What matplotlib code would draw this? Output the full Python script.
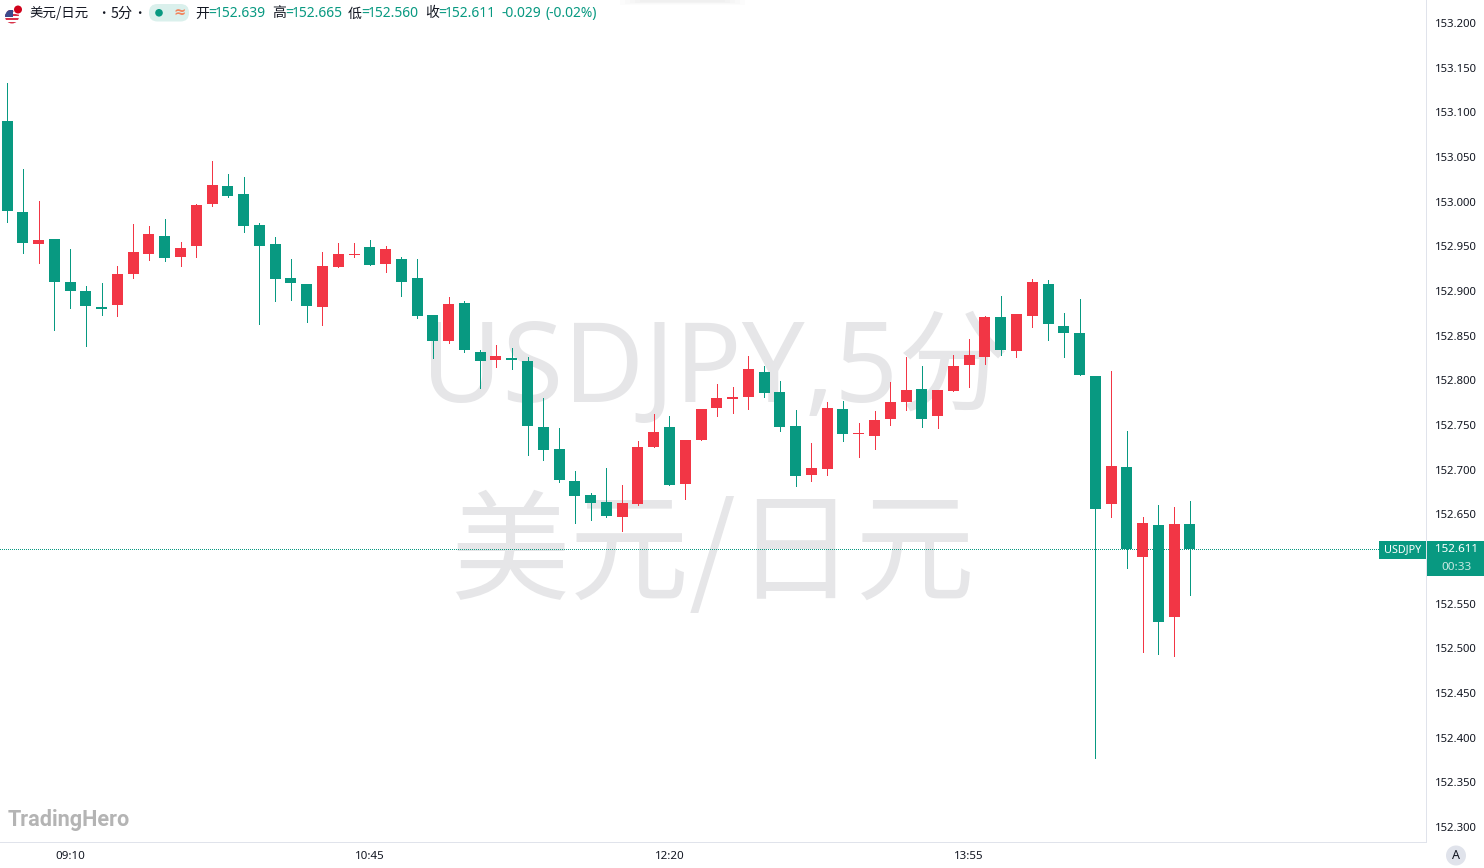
import matplotlib
matplotlib.use("Agg")
import matplotlib.pyplot as plt
from matplotlib.patches import Circle, FancyBboxPatch, Rectangle

W, H = 1484, 868
opens = [153.090,152.988,152.953,152.958,152.910,152.900,152.882,152.884,152.919,152.941,
         152.962,152.938,152.951,152.997,153.018,153.009,152.974,152.953,152.915,152.908,
         152.882,152.927,152.940,152.949,152.930,152.936,152.915,152.873,152.844,152.887,
         152.832,152.823,152.825,152.822,152.748,152.723,152.687,152.672,152.664,152.647,
         152.662,152.726,152.748,152.684,152.733,152.769,152.779,152.782,152.809,152.787,
         152.749,152.694,152.701,152.768,152.740,152.738,152.757,152.776,152.790,152.760,
         152.788,152.817,152.826,152.871,152.833,152.872,152.908,152.861,152.853,152.805,
         152.662,152.703,152.602,152.638,152.535,152.639]
highs = [153.133,153.037,153.001,152.958,152.947,152.906,152.909,152.928,152.975,152.973,
         152.981,152.955,152.997,153.046,153.031,153.028,152.976,152.960,152.936,152.908,
         152.944,152.954,152.954,152.957,152.950,152.938,152.936,152.873,152.893,152.889,
         152.834,152.840,152.836,152.826,152.780,152.747,152.699,152.674,152.702,152.683,
         152.732,152.762,152.760,152.733,152.768,152.796,152.793,152.827,152.816,152.799,
         152.767,152.730,152.776,152.777,152.752,152.766,152.798,152.826,152.816,152.789,
         152.829,152.846,152.872,152.894,152.874,152.913,152.912,152.876,152.891,152.805,
         152.810,152.743,152.647,152.660,152.658,152.665]
lows = [152.977,152.943,152.932,152.857,152.881,152.838,152.873,152.872,152.915,152.935,
        152.934,152.928,152.938,152.995,153.005,152.966,152.863,152.889,152.890,152.865,
        152.862,152.927,152.938,152.929,152.921,152.894,152.870,152.825,152.842,152.832,
        152.791,152.815,152.813,152.716,152.711,152.686,152.640,152.644,152.647,152.631,
        152.660,152.725,152.683,152.667,152.733,152.760,152.763,152.768,152.782,152.743,
        152.682,152.687,152.694,152.732,152.714,152.723,152.750,152.767,152.748,152.747,
        152.788,152.793,152.818,152.828,152.826,152.860,152.845,152.826,152.806,152.377,
        152.647,152.590,152.496,152.494,152.491,152.560]
closes = [152.990,152.954,152.957,152.910,152.900,152.883,152.880,152.919,152.944,152.964,
          152.937,152.948,152.996,153.019,153.007,152.973,152.951,152.913,152.909,152.883,
          152.928,152.941,152.941,152.929,152.947,152.910,152.872,152.844,152.885,152.834,
          152.822,152.827,152.823,152.749,152.722,152.688,152.671,152.663,152.648,152.663,
          152.725,152.742,152.683,152.733,152.768,152.780,152.781,152.813,152.786,152.748,
          152.693,152.702,152.769,152.740,152.741,152.756,152.776,152.789,152.757,152.789,
          152.816,152.829,152.871,152.834,152.874,152.910,152.863,152.853,152.806,152.656,
          152.704,152.611,152.640,152.530,152.639,152.611]
price_ticks = [153.2,153.15,153.1,153.05,153.0,152.95,152.9,152.85,152.8,152.75,
               152.7,152.65,152.55,152.5,152.45,152.4,152.35,152.3]
time_pos = [4, 23, 42, 61]
time_labels = ["09:10", "10:45", "12:20", "13:55"]
last_price = 152.611

GREEN, RED = "#089981", "#F23645"
INK, RULE, WM = "#131722", "#E0E3EB", "#E6E6E8"
CJK = ["Noto Sans CJK SC", "DejaVu Sans"]
UI = "Noto Sans"

fig = plt.figure(figsize=(W / 100, H / 100), dpi=100, facecolor="white")
ax = fig.add_axes([0, (H - 842) / H, 1426 / W, 842 / H])
PX = 893.33
ax.set_ylim(153.2 - (842 - 23.1) / PX, 153.2 + 23.1 / PX)
STEP = 15.773
ax.set_xlim(-7.0 / STEP, (1426 - 7.0) / STEP)

n = list(range(len(opens)))
cols = [GREEN if c < o else RED for o, c in zip(opens, closes)]
ax.vlines(n, lows, highs, colors=cols, linewidth=0.72, zorder=3, antialiased=False)
ax.bar(n, [max(abs(o - c), 0.0011) for o, c in zip(opens, closes)],
       bottom=[min(o, c) for o, c in zip(opens, closes)],
       width=11 / STEP, color=cols, linewidth=0, zorder=4, antialiased=False)
ax.axhline(last_price, color=GREEN, linewidth=0.72, linestyle=(0, (1, 2)), zorder=2,
           antialiased=False, dash_capstyle="butt")

for s in ("top", "left"):
    ax.spines[s].set_visible(False)
for s in ("bottom", "right"):
    ax.spines[s].set_color(RULE)
    ax.spines[s].set_linewidth(0.72)
ax.yaxis.tick_right()
ax.set_yticks(price_ticks)
ax.set_yticklabels([f"{p:.3f}" for p in price_ticks], fontsize=8.15, color=INK, family=UI)
ax.tick_params(axis="y", length=0, pad=6.6)
ax.set_xticks(time_pos)
ax.set_xticklabels(time_labels, fontsize=8.3, color=INK, family=UI)
ax.tick_params(axis="x", length=0, pad=6.5)

ov = fig.add_axes([0, 0, 1, 1], facecolor="none", zorder=-1)
ov.set_xlim(0, W); ov.set_ylim(H, 0); ov.axis("off")
ax.set_zorder(1); ax.patch.set_alpha(0)
top = fig.add_axes([0, 0, 1, 1], facecolor="none", zorder=5)
top.set_xlim(0, W); top.set_ylim(H, 0); top.axis("off")

# watermark beneath the candles
ov.text(715, 373, "USDJPY,5分", fontsize=80, color=WM, family=[UI, "Noto Sans CJK SC"],
        ha="center", va="center")
ov.text(713, 557, "美元/日元", fontsize=86, color=WM, family=CJK, ha="center", va="center",
        fontweight="light")
ov.text(8, 820, "TradingHero", fontsize=15.6, color="#B4B4B4", family="Roboto", fontweight="bold",
        ha="left", va="center")

# soft shadow of a hidden toolbar at the top edge
for k in range(5):
    ov.add_patch(Rectangle((620 + k * 5, 0), 125 - k * 10, 5 - k * 0.8, facecolor="#808080",
                           alpha=0.018, linewidth=0))

# flag
disc = Circle((12, 16.5), 7, transform=top.transData)
for k, col in enumerate(["#D8334A", "white", "#D8334A", "white", "#D8334A", "white", "#D8334A"]):
    r = top.add_patch(Rectangle((5, 9.5 + k * 2), 14, 2, color=col, linewidth=0, zorder=2))
    r.set_clip_path(disc)
canton = top.add_patch(Rectangle((5, 9.5), 7.5, 7, color="#3C4A8C", linewidth=0, zorder=3))
canton.set_clip_path(disc)
top.add_patch(Circle((18, 9.5), 5, color="white", linewidth=0, zorder=4))
top.add_patch(Circle((18, 9.5), 4, color="#D0021B", linewidth=0, zorder=5))

def label(x, s, color=INK, size=10.0, fam=CJK, y=13.5):
    top.text(x, y, s, fontsize=size, color=color, family=fam, ha="left", va="center")

label(29, "美元/日元", size=9.7)
label(97, "•", size=9)
label(111, "5分", size=10.3)
label(133, "•", size=9)
top.add_patch(FancyBboxPatch((149, 4), 40, 17.5, boxstyle="round,pad=0,rounding_size=8.5",
                             linewidth=0, facecolor="#DAF0EC"))
top.add_patch(Circle((159, 12.8), 3.8, color=GREEN, linewidth=0))
top.text(179.5, 12.5, "≈", fontsize=10.5, color="#F2845C", ha="center", va="center",
         family="DejaVu Sans", fontweight="bold")
for x, cap, val in [(195, "开", "152.639"), (272, "高", "152.665"),
                    (348, "低", "152.560"), (425, "收", "152.611")]:
    label(x, cap)
    label(x + 13, "=", GREEN, 10.0, UI)
    label(x + 20, val, GREEN, 10.0, UI)
label(502, "-0.029", GREEN, 10.0, UI)
label(546, "(-0.02%)", GREEN, 10.0, UI)

# price tags
top.add_patch(Rectangle((1379, 541), 47, 17.5, facecolor=GREEN, linewidth=0))
top.add_patch(Rectangle((1427, 541), 57, 35, facecolor=GREEN, linewidth=0))
top.text(1402.5, 549.5, "USDJPY", fontsize=7.8, color="white", family=UI, ha="center", va="center",
         fontweight="bold")
top.text(1456, 549.5, "152.611", fontsize=8.4, color="white", family=UI, ha="center", va="center",
         fontweight="bold")
top.text(1456, 567.5, "00:33", fontsize=8.4, color="#C9E8E2", family=UI, ha="center", va="center")

# auto-scale button
top.add_patch(Circle((1456, 855.5), 10, facecolor=RULE, linewidth=0))
top.text(1456, 855.5, "A", fontsize=9, color=INK, family=UI, ha="center", va="center")

fig.savefig("out.png", dpi=100)
